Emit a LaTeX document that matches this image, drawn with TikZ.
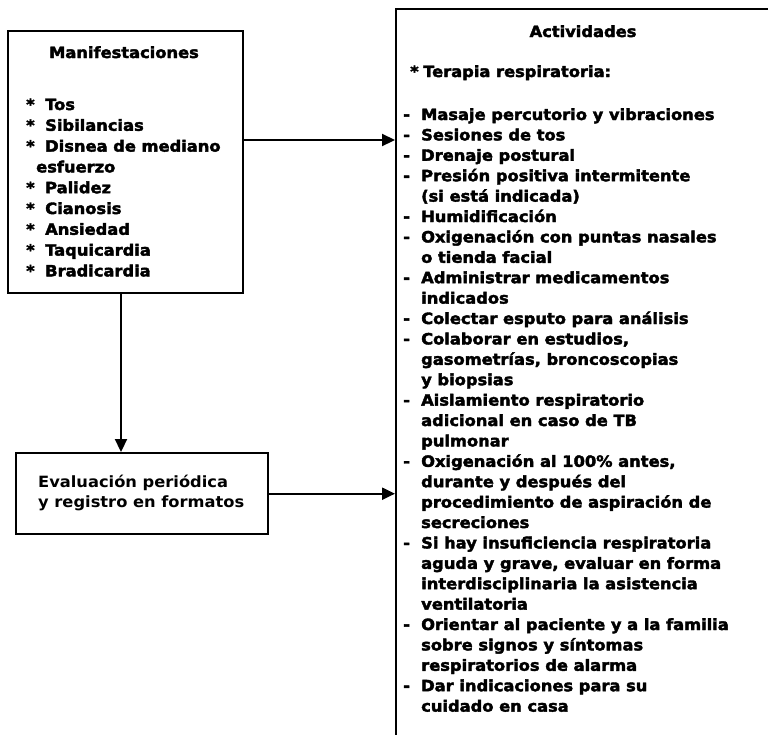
\documentclass[tikz,border=0pt]{standalone}
\usepackage{fontspec}
\setmainfont{DejaVu Sans}[FakeStretch=1.05]
\newfontfamily\heavyfont{DejaVu Sans Bold}[FakeStretch=1.05, FakeBold=2.5]
\usetikzlibrary{arrows.meta}

\tikzset{
  box/.style={draw, line width=2.4pt, inner sep=0pt},
  txt/.style={anchor=base west, inner sep=0pt, font=\heavyfont\fontsize{15.5}{20}\selectfont},
  lighttxt/.style={anchor=base west, inner sep=0pt, font=\bfseries\fontsize{15.5}{20}\selectfont},
  head/.style={anchor=base, inner sep=0pt, font=\heavyfont\fontsize{15.5}{20}\selectfont},
  flow/.style={line width=2.2pt, -{Triangle[length=13pt,width=12pt]}}
}

\begin{document}
\begin{tikzpicture}[x=1pt, y=-1pt]
\useasboundingbox (0,0) rectangle (768,734);
\clip (0,0) rectangle (768,734);

% boxes
\node[box, anchor=north west, minimum width=235pt, minimum height=262pt] (mani) at (7,30) {};
\node[box, anchor=north west, minimum width=252pt, minimum height=81pt] (eval) at (15,452) {};
\node[box, anchor=north west, minimum width=420pt, minimum height=780pt] (act) at (395,8) {};

% Manifestaciones
\node[head] (manititle) at (124,58) {Manifestaciones};
\foreach \m/\t [count=\i from 0] in {
  */Tos, */Sibilancias, */{Disnea de mediano}, {}/{}, */Palidez,
  */Cianosis, */Ansiedad, */Taquicardia, */Bradicardia}
  \node[txt] (mi\i) at (26,110+20.8*\i) {\makebox[19pt][l]{\m}\t};
\node[txt] (mcont) at (36,110+20.8*3) {esfuerzo};

% Evaluacion
\node[lighttxt] (ev1) at (38,487) {Evaluación periódica};
\node[lighttxt] (ev2) at (38,507) {y registro en formatos};

% Actividades
\node[head] (acttitle) at (583,37) {Actividades};
\node[txt] (terapia) at (410,77) {\makebox[13pt][l]{*}Terapia respiratoria:};
\foreach \m/\t [count=\i from 0] in {
  -/{Masaje percutorio y vibraciones},
  -/{Sesiones de tos},
  -/{Drenaje postural},
  -/{Presión positiva intermitente},
  {}/{(si está indicada)},
  -/{Humidificación},
  -/{Oxigenación con puntas nasales},
  {}/{o tienda facial},
  -/{Administrar medicamentos},
  {}/{indicados},
  -/{Colectar esputo para análisis},
  -/{Colaborar en estudios,},
  {}/{gasometrías, broncoscopias},
  {}/{y biopsias},
  -/{Aislamiento respiratorio},
  {}/{adicional en caso de TB},
  {}/{pulmonar},
  -/{Oxigenación al 100\% antes,},
  {}/{durante y después del},
  {}/{procedimiento de aspiración de},
  {}/{secreciones},
  -/{Si hay insuficiencia respiratoria},
  {}/{aguda y grave, evaluar en forma},
  {}/{interdisciplinaria la asistencia},
  {}/{ventilatoria},
  -/{Orientar al paciente y a la familia},
  {}/{sobre signos y síntomas},
  {}/{respiratorios de alarma},
  -/{Dar indicaciones para su},
  {}/{cuidado en casa}}
  \node[txt] (ai\i) at (403,120+20.4*\i) {\makebox[18pt][l]{\m}\t};

% connectors
\coordinate (y1) at (0,140);
\coordinate (x1) at (121,0);
\draw[flow] (mani.east |- y1) -- (act.west |- y1);
\draw[flow] (mani.south -| x1) -- (eval.north -| x1);
\draw[flow] (eval.east) -- (eval.east -| act.west);
\end{tikzpicture}
\end{document}
